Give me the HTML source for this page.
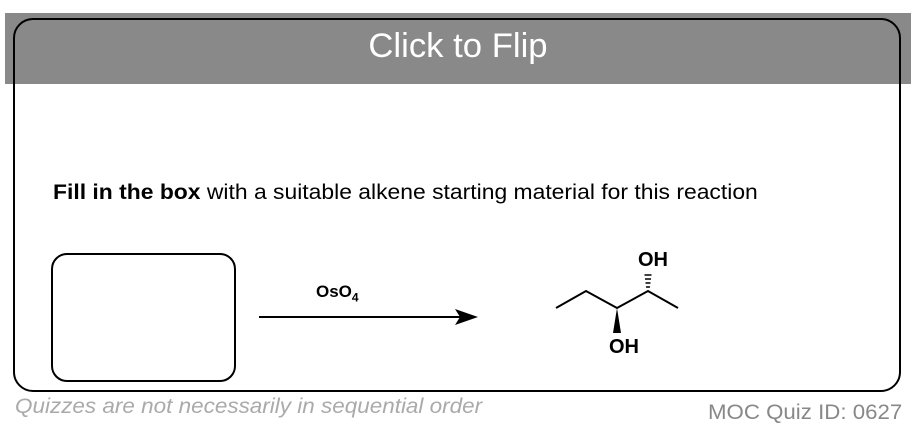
<html><body style="margin:0;width:916px;height:436px;background:#fff;position:relative;overflow:hidden;font-family:'Liberation Sans',sans-serif">
<div style="position:absolute;left:5px;top:13px;width:906px;height:71px;background:#898989"></div>
<div style="position:absolute;left:13px;top:18px;width:884px;height:370px;border:2px solid #000;border-radius:20px"></div>
<div style="position:absolute;left:0;top:27px;width:916px;text-align:center;color:#fff;font-size:34px;transform:scaleX(1.02)">Click to Flip</div>
<div style="position:absolute;left:53px;top:181px;font-size:21px;color:#000;transform-origin:0 0;transform:scaleX(1.09);white-space:nowrap"><b>Fill in the box</b> with a suitable alkene starting material for this reaction</div>
<div style="position:absolute;left:51px;top:253px;width:181px;height:125px;border:2px solid #000;border-radius:16px"></div>
<div style="position:absolute;left:316px;top:282px;font-size:17px;font-weight:bold">OsO<sub style="font-size:12px">4</sub></div>
<svg style="position:absolute;left:0;top:0" width="916" height="436">
<line x1="259" y1="317" x2="460" y2="317" stroke="#000" stroke-width="2"/>
<polygon points="478,317 455,309 460,317 455,325" fill="#000"/>
<polyline points="556,308 586,291 617,308 648,291 678,308" fill="none" stroke="#000" stroke-width="2"/>
<polygon points="617,308 613,333 621,333" fill="#000"/>
<g stroke="#000" stroke-width="1.5">
<line x1="646" y1="287" x2="650" y2="287"/><line x1="645.5" y1="283" x2="650.5" y2="283"/><line x1="645" y1="279" x2="651" y2="279"/><line x1="644.5" y1="275" x2="651.5" y2="275"/>
</g>
<text x="653" y="266" font-size="20" font-weight="bold" text-anchor="middle" font-family="Liberation Sans">OH</text>
<text x="624" y="353" font-size="20" font-weight="bold" text-anchor="middle" font-family="Liberation Sans">OH</text>
</svg>
<div style="position:absolute;left:15px;top:395px;font-size:21px;font-style:italic;color:#aaa;transform-origin:0 0;transform:scaleX(1.07);white-space:nowrap">Quizzes are not necessarily in sequential order</div>
<div style="position:absolute;left:708px;top:401px;font-size:21px;color:#888;transform-origin:0 0;transform:scaleX(1.06);white-space:nowrap">MOC Quiz ID: 0627</div>
</body></html>
